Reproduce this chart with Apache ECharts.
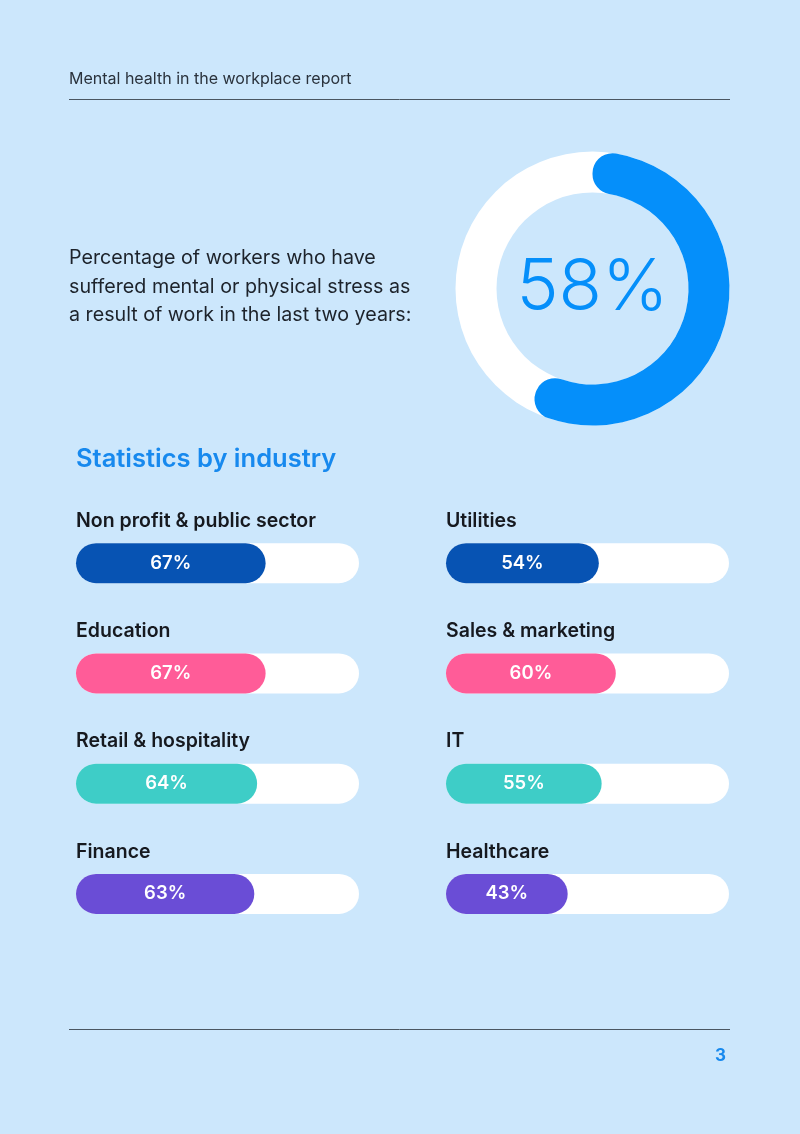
<!DOCTYPE html>
<html>
<head>
<meta charset="utf-8">
<script src="https://cdn.jsdelivr.net/npm/echarts@6/dist/echarts.min.js"></script>
<style>
  html, body { margin: 0; padding: 0; background: #cce7fc; }
  #main { width: 800px; height: 1134px; }
</style>
</head>
<body>
<div id="main"></div>
<script>
// data
var stressedShare = 58;
var industriesLeft = ['Non profit & public sector', 'Education', 'Retail & hospitality', 'Finance'];
var valuesLeft = [67, 67, 64, 63];
var industriesRight = ['Utilities', 'Sales & marketing', 'IT', 'Healthcare'];
var valuesRight = [54, 60, 55, 43];
var rowColors = ['#0753b3', '#ff5c98', '#3ecdc7', '#6a4dd6'];

var chart = echarts.init(document.getElementById('main'));
var font = 'Inter, "Noto Sans", sans-serif';
var darkText = '#16191f';

// builds the track + fill pair for one column
function column(idx, names, values) {
    return [{
        name: 'track' + idx,
        type: 'bar',
        xAxisIndex: idx,
        yAxisIndex: idx,
        barWidth: 40,
        silent: true,
        itemStyle: { color: '#ffffff', borderRadius: 20 },
        label: {
            show: true,
            position: [0, -22],
            align: 'left',
            verticalAlign: 'middle',
            formatter: '{b}',
            color: darkText,
            fontFamily: font,
            fontWeight: 600,
            fontSize: 19.5
        },
        data: names.map(function () { return 100; })
    }, {
        name: 'fill' + idx,
        type: 'bar',
        xAxisIndex: idx,
        yAxisIndex: idx,
        barWidth: 40,
        barGap: '-100%',
        silent: true,
        label: {
            show: true,
            position: 'inside',
            formatter: '{c}%',
            color: '#ffffff',
            fontFamily: font,
            fontWeight: 600,
            fontSize: 18.5
        },
        data: values.map(function (v, i) {
            return { value: v, itemStyle: { color: rowColors[i], borderRadius: 20 } };
        })
    }];
}

var bandTop = 508, bandH = 441;

option = {
    backgroundColor: '#cce7fc',
    animation: false,
    title: [{
        text: 'Mental health in the workplace report',
        left: 69, top: 71, padding: 0,
        textStyle: { color: '#2a323c', fontFamily: font, fontWeight: 400, fontSize: 16 }
    }, {
        text: 'Percentage of workers who have\nsuffered mental or physical stress as\na result of work in the last two years:',
        left: 69, top: 244, padding: 0,
        textStyle: { color: '#1d232b', fontFamily: font, fontWeight: 400, fontSize: 19.7, lineHeight: 28.5 }
    }, {
        text: 'Statistics by industry',
        left: 76, top: 446, padding: 0,
        textStyle: { color: '#1789ee', fontFamily: font, fontWeight: 600, fontSize: 25.5 }
    }, {
        text: '3',
        right: 74, top: 1047, padding: 0,
        textStyle: { color: '#1789ee', fontFamily: font, fontWeight: 700, fontSize: 17 }
    }],
    graphic: [
        { type: 'line', shape: { x1: 69, y1: 99.5, x2: 730, y2: 99.5 }, style: { stroke: '#4a5661', lineWidth: 1 } },
        { type: 'line', shape: { x1: 69, y1: 1029.5, x2: 730, y2: 1029.5 }, style: { stroke: '#4a5661', lineWidth: 1 } }
    ],
    grid: [
        { left: 76, width: 283, top: bandTop, height: bandH },
        { left: 446, width: 283, top: bandTop, height: bandH }
    ],
    xAxis: [0, 1].map(function (i) {
        return { gridIndex: i, type: 'value', min: 0, max: 100, show: false };
    }),
    yAxis: [industriesLeft, industriesRight].map(function (names, i) {
        return { gridIndex: i, type: 'category', inverse: true, data: names, show: false };
    }),
    series: [{
        type: 'pie',
        center: [592.5, 288.5],
        radius: [96, 137],
        silent: true,
        label: { show: false },
        itemStyle: { color: '#ffffff' },
        data: [100]
    }, {
        type: 'pie',
        center: [592.5, 288.5],
        radius: [96, 137],
        startAngle: 90,
        clockwise: true,
        silent: true,
        z: 3,
        itemStyle: { borderRadius: 20 },
        data: [{
            value: stressedShare,
            itemStyle: { color: '#058ffa' },
            label: {
                show: true, position: 'center', formatter: '{c}%',
                padding: [0, 0, 12, 0],
                color: '#058ffa', fontFamily: font, fontWeight: 300, fontSize: 71
            }
        }, {
            value: 100 - stressedShare,
            itemStyle: { color: 'rgba(0,0,0,0)' },
            label: { show: false }
        }]
    }].concat(column(0, industriesLeft, valuesLeft), column(1, industriesRight, valuesRight))
};

chart.setOption(option);
</script>
</body>
</html>
